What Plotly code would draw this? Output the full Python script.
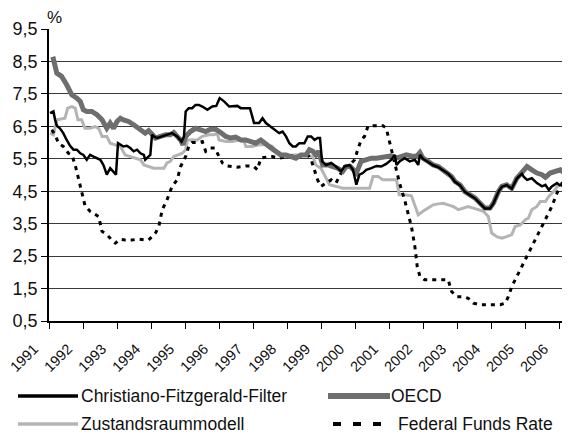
import plotly.graph_objects as go

# ---------------- data ----------------
oecd_t = [1991.06, 1991.13, 1991.23, 1991.37, 1991.52, 1991.67, 1991.82, 1991.92, 1992.01, 1992.11,
          1992.26, 1992.41, 1992.56, 1992.70, 1992.80, 1992.90, 1993.00, 1993.10, 1993.19, 1993.34,
          1993.49, 1993.64, 1993.74, 1993.83, 1993.93, 1994.03, 1994.13, 1994.28, 1994.43, 1994.57,
          1994.67, 1994.77, 1994.87, 1994.94, 1995.02, 1995.16, 1995.31, 1995.46, 1995.61, 1995.75,
          1995.90, 1996.05, 1996.20, 1996.34, 1996.49, 1996.64, 1996.79, 1996.94, 1997.08, 1997.23,
          1997.38, 1997.53, 1997.67, 1997.82, 1997.97, 1998.12, 1998.26, 1998.41, 1998.56, 1998.66,
          1998.76, 1998.85, 1998.93, 1999.05, 1999.20, 1999.35, 1999.49, 1999.64, 1999.74, 1999.86,
          1999.99, 2000.04, 2000.18, 2000.33, 2000.48, 2000.63, 2000.77, 2000.92, 2001.07, 2001.22,
          2001.36, 2001.51, 2001.66, 2001.81, 2001.91, 2002.00, 2002.15, 2002.30, 2002.45, 2002.59,
          2002.74, 2002.84, 2002.94, 2003.09, 2003.23, 2003.38, 2003.53, 2003.68, 2003.82, 2003.97,
          2004.07, 2004.22, 2004.32, 2004.46, 2004.61, 2004.76, 2004.91, 2005.06, 2005.20, 2005.35,
          2005.50, 2005.60, 2005.74, 2005.89, 2006.04, 2006.14]
oecd_v = [8.55, 8.57, 8.14, 8.04, 7.78, 7.47, 7.37, 7.27, 7.01, 6.96,
          6.96, 6.86, 6.70, 6.44, 6.60, 6.44, 6.65, 6.75, 6.70, 6.65,
          6.55, 6.44, 6.39, 6.29, 6.37, 6.27, 6.14, 6.19, 6.24, 6.24,
          6.31, 6.19, 6.08, 5.93, 6.19, 6.34, 6.44, 6.39, 6.34, 6.41,
          6.41, 6.31, 6.19, 6.14, 6.17, 6.08, 6.08, 6.03, 5.98, 6.08,
          5.93, 5.83, 5.73, 5.62, 5.62, 5.57, 5.52, 5.62, 5.62, 5.78,
          5.73, 5.62, 5.73, 5.31, 5.31, 5.26, 5.21, 5.11, 5.26, 5.26,
          5.11, 5.06, 5.42, 5.47, 5.52, 5.52, 5.55, 5.55, 5.59, 5.52,
          5.57, 5.62, 5.59, 5.57, 5.69, 5.52, 5.42, 5.31, 5.26, 5.16,
          5.06, 4.95, 4.80, 4.70, 4.49, 4.39, 4.29, 4.13, 3.98, 3.98,
          4.13, 4.49, 4.65, 4.70, 4.59, 4.90, 5.06, 5.26, 5.16, 5.06,
          5.01, 4.93, 5.06, 5.11, 5.16, 5.08]

cf_t = [1991.03, 1991.13, 1991.18, 1991.23, 1991.32, 1991.42, 1991.52, 1991.62, 1991.72, 1991.82,
        1991.92, 1992.01, 1992.11, 1992.21, 1992.31, 1992.41, 1992.51, 1992.60, 1992.70, 1992.80,
        1992.90, 1992.97, 1993.03, 1993.10, 1993.19, 1993.29, 1993.39, 1993.49, 1993.59, 1993.69,
        1993.79, 1993.83, 1993.93, 1993.98, 1994.03, 1994.08, 1994.18, 1994.33, 1994.47, 1994.62,
        1994.77, 1994.90, 1994.97, 1995.02, 1995.11, 1995.21, 1995.31, 1995.41, 1995.51, 1995.66,
        1995.80, 1995.92, 1996.02, 1996.15, 1996.30, 1996.44, 1996.54, 1996.64, 1996.79, 1996.91,
        1996.98, 1997.03, 1997.18, 1997.28, 1997.38, 1997.53, 1997.67, 1997.77, 1997.87, 1997.97,
        1998.07, 1998.17, 1998.26, 1998.36, 1998.51, 1998.61, 1998.71, 1998.81, 1998.90, 1998.97,
        1999.03, 1999.15, 1999.30, 1999.44, 1999.59, 1999.69, 1999.84, 1999.94, 2000.04, 2000.13,
        2000.23, 2000.33, 2000.48, 2000.63, 2000.77, 2000.92, 2001.07, 2001.17, 2001.22, 2001.31,
        2001.46, 2001.61, 2001.76, 2001.86, 2001.91, 2002.00, 2002.15, 2002.30, 2002.45, 2002.59,
        2002.74, 2002.84, 2002.94, 2003.09, 2003.23, 2003.38, 2003.53, 2003.68, 2003.82, 2003.97,
        2004.07, 2004.22, 2004.32, 2004.46, 2004.61, 2004.76, 2004.91, 2004.96, 2005.06, 2005.20,
        2005.35, 2005.50, 2005.60, 2005.70, 2005.79, 2005.94, 2006.04]
cf_v = [6.91, 6.96, 6.70, 6.52, 6.44, 6.29, 6.08, 5.90, 5.78, 5.78,
        5.67, 5.62, 5.47, 5.62, 5.57, 5.52, 5.47, 5.31, 5.01, 5.21,
        5.11, 5.01, 5.98, 5.93, 5.88, 5.90, 5.83, 5.73, 5.78, 5.67,
        5.62, 5.47, 5.57, 5.62, 6.24, 6.19, 6.14, 6.19, 6.24, 6.29,
        6.19, 6.03, 6.19, 6.96, 7.06, 7.06, 7.16, 7.16, 7.11, 7.01,
        7.11, 7.13, 7.37, 7.27, 7.11, 7.11, 7.13, 7.06, 7.06, 7.06,
        6.80, 6.60, 6.60, 6.75, 6.60, 6.49, 6.39, 6.29, 6.34, 6.19,
        5.98, 5.88, 5.88, 5.98, 5.98, 6.19, 6.19, 6.08, 6.14, 6.14,
        5.42, 5.31, 5.37, 5.26, 5.11, 5.26, 5.31, 5.16, 4.70, 5.01,
        5.06, 5.16, 5.21, 5.28, 5.26, 5.34, 5.47, 5.62, 5.31, 5.42,
        5.52, 5.42, 5.47, 5.31, 5.62, 5.50, 5.40, 5.30, 5.24, 5.14,
        5.04, 4.93, 4.79, 4.68, 4.48, 4.38, 4.28, 4.12, 3.97, 3.97,
        4.12, 4.48, 4.64, 4.69, 4.58, 4.89, 5.04, 4.95, 4.85, 4.90,
        4.75, 4.65, 4.70, 4.54, 4.65, 4.75, 4.67]

zr_t = [1991.03, 1991.13, 1991.23, 1991.37, 1991.47, 1991.55, 1991.67, 1991.77, 1991.85, 1991.96,
        1992.06, 1992.21, 1992.36, 1992.46, 1992.56, 1992.70, 1992.80, 1992.95, 1993.10, 1993.24,
        1993.39, 1993.54, 1993.69, 1993.79, 1993.93, 1994.08, 1994.23, 1994.38, 1994.47, 1994.57,
        1994.67, 1994.82, 1994.92, 1995.02, 1995.07, 1995.21, 1995.36, 1995.51, 1995.70, 1995.85,
        1995.95, 1996.00, 1996.20, 1996.39, 1996.59, 1996.74, 1996.79, 1996.98, 1997.18, 1997.38,
        1997.57, 1997.77, 1997.97, 1998.17, 1998.36, 1998.56, 1998.76, 1998.85, 1999.00, 1999.10,
        1999.25, 1999.44, 1999.64, 1999.84, 2000.04, 2000.23, 2000.43, 2000.53, 2000.68, 2000.82,
        2001.02, 2001.22, 2001.30, 2001.46, 2001.66, 2001.76, 2001.86, 2002.00, 2002.15, 2002.30,
        2002.45, 2002.59, 2002.74, 2002.89, 2003.04, 2003.19, 2003.33, 2003.48, 2003.63, 2003.78,
        2003.92, 2004.02, 2004.17, 2004.32, 2004.46, 2004.61, 2004.71, 2004.86, 2005.01, 2005.10,
        2005.20, 2005.35, 2005.45, 2005.60, 2005.70, 2005.84, 2005.99]
zr_v = [6.29, 6.24, 6.70, 6.72, 6.75, 7.06, 7.11, 7.06, 6.70, 6.70,
        6.44, 6.44, 6.49, 6.44, 6.19, 6.19, 5.98, 5.93, 5.88, 5.62,
        5.57, 5.52, 5.47, 5.31, 5.26, 5.21, 5.21, 5.21, 5.37, 5.42,
        5.57, 5.62, 5.67, 5.78, 6.08, 6.08, 6.08, 6.19, 6.24, 6.24,
        6.29, 6.08, 6.03, 6.03, 6.08, 6.03, 5.88, 5.88, 5.93, 5.93,
        5.88, 5.62, 5.57, 5.62, 5.62, 5.62, 5.57, 5.31, 5.21, 5.01,
        4.70, 4.65, 4.59, 4.59, 4.59, 4.59, 4.59, 4.95, 4.95, 4.85,
        4.85, 4.85, 4.39, 4.39, 4.36, 4.03, 3.77, 3.88, 3.98, 4.08,
        4.11, 4.13, 4.08, 4.03, 3.93, 3.98, 4.03, 3.98, 3.93, 3.88,
        3.72, 3.21, 3.10, 3.05, 3.10, 3.16, 3.41, 3.46, 3.62, 3.67,
        3.93, 4.03, 4.18, 4.18, 4.34, 4.49, 4.70]

ffr_t = [1991.08, 1991.18, 1991.28, 1991.42, 1991.57, 1991.67, 1991.77, 1991.87, 1991.96, 1992.06,
         1992.21, 1992.36, 1992.46, 1992.56, 1992.70, 1992.85, 1992.95, 1993.10, 1993.24, 1993.44,
         1993.64, 1993.83, 1993.93, 1994.03, 1994.13, 1994.23, 1994.33, 1994.47, 1994.62, 1994.77,
         1994.87, 1995.02, 1995.11, 1995.21, 1995.36, 1995.51, 1995.61, 1995.75, 1995.88, 1996.00,
         1996.10, 1996.25, 1996.39, 1996.54, 1996.69, 1996.79, 1996.91, 1997.03, 1997.13, 1997.23,
         1997.38, 1997.57, 1997.77, 1997.97, 1998.12, 1998.26, 1998.46, 1998.61, 1998.71, 1998.81,
         1998.90, 1999.00, 1999.15, 1999.30, 1999.44, 1999.54, 1999.69, 1999.84, 1999.99, 2000.08,
         2000.18, 2000.28, 2000.38, 2000.53, 2000.68, 2000.82, 2000.92, 2001.02, 2001.12, 2001.22,
         2001.31, 2001.46, 2001.56, 2001.66, 2001.76, 2001.83, 2001.91, 2002.05, 2002.20, 2002.40,
         2002.59, 2002.74, 2002.84, 2002.99, 2003.19, 2003.33, 2003.48, 2003.68, 2003.87, 2004.07,
         2004.27, 2004.42, 2004.51, 2004.61, 2004.76, 2004.91, 2005.06, 2005.20, 2005.35, 2005.50,
         2005.65, 2005.79, 2005.94, 2006.09, 2006.24]
ffr_v = [6.39, 6.24, 5.98, 5.88, 5.67, 5.62, 5.31, 4.85, 4.44, 4.05,
         3.88, 3.77, 3.72, 3.26, 3.16, 3.00, 2.90, 3.02, 3.00, 3.00,
         3.02, 3.00, 3.00, 3.10, 3.21, 3.41, 3.93, 4.23, 4.65, 4.85,
         5.26, 5.57, 5.88, 6.00, 6.00, 6.03, 5.73, 5.83, 5.83, 5.57,
         5.37, 5.28, 5.26, 5.24, 5.26, 5.28, 5.28, 5.26, 5.16, 5.52,
         5.55, 5.57, 5.52, 5.55, 5.59, 5.55, 5.59, 5.62, 5.47, 5.11,
         4.85, 4.65, 4.75, 4.85, 4.75, 4.95, 5.26, 5.31, 5.47, 5.78,
         6.08, 6.19, 6.50, 6.52, 6.52, 6.52, 6.44, 5.98, 5.57, 5.16,
         4.75, 4.23, 3.82, 3.41, 2.80, 2.18, 1.87, 1.77, 1.77, 1.77,
         1.77, 1.77, 1.41, 1.25, 1.25, 1.20, 1.05, 1.00, 1.00, 1.00,
         1.00, 1.05, 1.25, 1.56, 1.87, 2.18, 2.49, 2.80, 3.10, 3.41,
         3.72, 4.03, 4.44, 4.75, 4.85]

years = list(range(1991, 2007))
year_labels = [str(y) for y in years]
y_ticks = [0.5, 1.5, 2.5, 3.5, 4.5, 5.5, 6.5, 7.5, 8.5, 9.5]

names = ["Christiano-Fitzgerald-Filter", "OECD", "Zustandsraummodell", "Federal Funds Rate"]

# ---------------- styling ----------------
FONT = "Liberation Sans, Arial, Helvetica, sans-serif"
C_CF = "#000000"
C_OECD = "#6e6e6e"
C_ZR = "#b4b4b4"
C_FFR = "#000000"

OFF = 8                      # page body margin in the browser
W, H = 570 - OFF, 448 - OFF  # figure size so it fills the window exactly
L, T = 49 - OFF, 29 - OFF    # plot area origin (screen 49, 29)
PW, PH = W - L, 292
B = H - T - PH
X_PER_YEAR = 34.0

fig = go.Figure()
fig.add_trace(go.Scatter(x=zr_t, y=zr_v, mode="lines", name=names[2],
                         line=dict(color=C_ZR, width=3), showlegend=False))
fig.add_trace(go.Scatter(x=ffr_t, y=ffr_v, mode="lines", name=names[3],
                         line=dict(color=C_FFR, width=3, dash="4px,5px"), showlegend=False))
fig.add_trace(go.Scatter(x=oecd_t, y=oecd_v, mode="lines", name=names[1],
                         line=dict(color=C_OECD, width=5), showlegend=False))
fig.add_trace(go.Scatter(x=cf_t, y=cf_v, mode="lines", name=names[0],
                         line=dict(color=C_CF, width=2.5), showlegend=False))


def scr2paper(sx, sy):
    """screen pixel -> paper coordinates"""
    fx, fy = sx - OFF, sy - OFF
    return (fx - L) / PW, (T + PH - fy) / PH


# manual legend (screen pixel positions)
legend_items = [
    (names[0], dict(color=C_CF, width=3.5), 18, 78, 79, 396),
    (names[1], dict(color=C_OECD, width=6), 328, 390, 389, 396),
    (names[2], dict(color=C_ZR, width=3.5), 18, 78, 79, 424),
    (names[3], dict(color=C_FFR, width=4, dash="8px,12px"), 333, 392, 396, 424),
]
shapes = []
annotations = []
for label, ln, x0, x1, xt, yc in legend_items:
    ax0, ay = scr2paper(x0, yc)
    ax1, _ = scr2paper(x1, yc)
    shapes.append(dict(type="line", xref="paper", yref="paper", x0=ax0, x1=ax1, y0=ay, y1=ay,
                       line=ln, layer="above"))
    tx, _ = scr2paper(xt, yc)
    annotations.append(dict(text=label, xref="paper", yref="paper", x=tx, y=ay,
                            xanchor="left", yanchor="middle", showarrow=False,
                            font=dict(family=FONT, size=17.5, color="#111")))

px_, py_ = scr2paper(45, 17)
annotations.append(dict(text="%", xref="paper", yref="paper", x=px_, y=py_,
                        xanchor="left", yanchor="middle", showarrow=False,
                        font=dict(family=FONT, size=17, color="#111")))

fig.update_layout(
    width=W, height=H,
    margin=dict(l=L, r=0, t=T, b=B, pad=0, autoexpand=False),
    paper_bgcolor="white", plot_bgcolor="white",
    separators=",.",
    showlegend=False,
    shapes=shapes,
    annotations=annotations,
    font=dict(family=FONT, size=16, color="#111"),
    xaxis=dict(
        range=[1991, 1991 + PW / X_PER_YEAR],
        tickmode="array", tickvals=years, ticktext=year_labels,
        tickangle=-45, ticks="outside", ticklen=6, tickcolor="#000", tickwidth=1,
        ticklabelshift=-15, ticklabelstandoff=6, ticklabeloverflow="allow",
        showline=True, linecolor="#000", linewidth=1.5,
        showgrid=False, zeroline=False, automargin=False,
        tickfont=dict(family=FONT, size=14.5, color="#111"),
    ),
    yaxis=dict(
        range=[0.5, 9.5],
        tickmode="array", tickvals=y_ticks, tickformat=".1f",
        ticks="outside", ticklen=6, tickcolor="#000", tickwidth=1,
        showline=True, linecolor="#000", linewidth=1.5,
        showgrid=True, gridcolor="#3a3a3a", gridwidth=1,
        zeroline=False, automargin=False,
        tickfont=dict(family=FONT, size=18, color="#111"),
    ),
)

fig.write_html("out.html")
